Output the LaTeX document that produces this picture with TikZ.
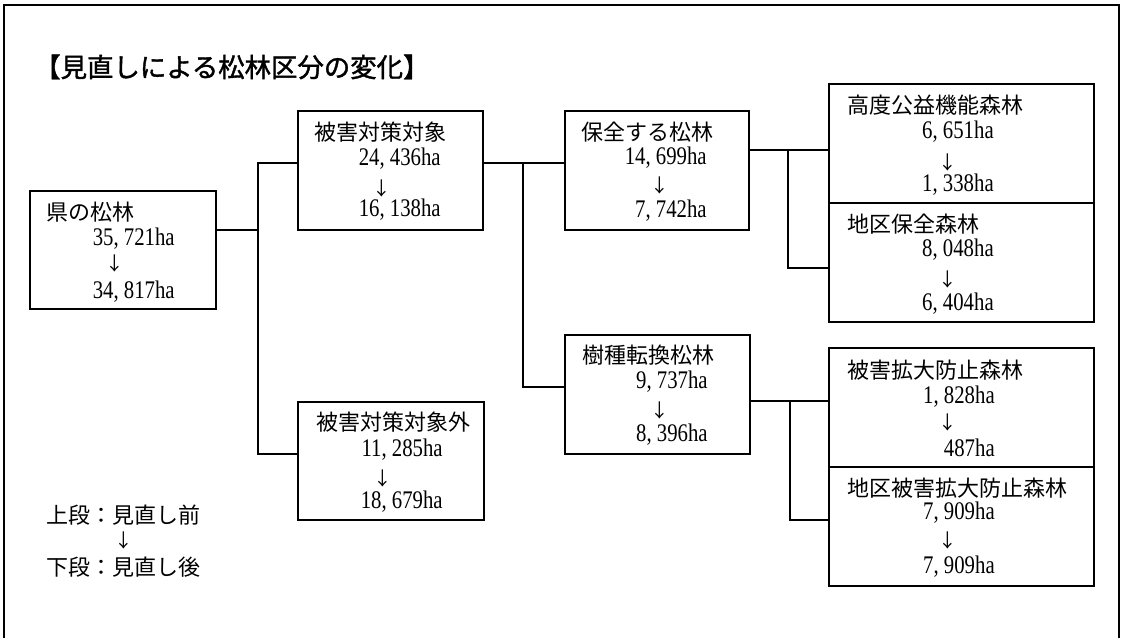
\documentclass[tikz,border=0pt]{standalone}
\usepackage{fontspec}
\setmainfont{Liberation Serif}
\newfontfamily\numfont[FakeStretch=0.82]{Liberation Serif}
\newfontfamily\jp{Noto Sans CJK JP}
\newfontfamily\jpb[FakeBold=1.5]{Noto Sans CJK JP}
\usetikzlibrary{fit}
\begin{document}
\begin{tikzpicture}[x=0.75pt,y=-0.75pt,
  box/.style={draw, line width=0.9pt, inner sep=0pt},
  conn/.style={draw, line width=0.9pt},
  frameline/.style={draw, line width=0.9pt},
  lbl/.style={font=\jp\fontsize{16.5}{18}\selectfont, anchor=west, inner sep=0pt},
  num/.style={font=\numfont\fontsize{19}{21}\selectfont, anchor=east, inner sep=0pt},
  arr/.style={font=\jp\fontsize{14}{16}\selectfont, inner sep=0pt},
  ttl/.style={font=\jpb\fontsize{19.8}{22}\selectfont, anchor=west, inner sep=0pt}]
\useasboundingbox (0,0) rectangle (1122,638);
\fill[white] (0,0) rectangle (1122,638);
\draw[frameline] (4,638) -- (4,5) -- (1119,5) -- (1119,638);

\node[ttl] (T) at (34,67) {【見直しによる松林区分の変化】};

% boxes
\node[box, fit={(30,191)(216,309)}] (A) {};
\node[box, fit={(298,111)(483,230)}] (B) {};
\node[box, fit={(298,402)(484,520)}] (C) {};
\node[box, fit={(565,111)(749,230)}] (D) {};
\node[box, fit={(565,335)(750,454)}] (E) {};
\node[box, fit={(829,84)(1094,203)}] (F) {};
\node[box, fit={(829,203)(1094,322)}] (G) {};
\node[box, fit={(829,348)(1094,467)}] (H) {};
\node[box, fit={(829,467)(1094,586)}] (I) {};

% texts
\node[lbl] (A1) at (46,212) {県の松林};
\node[num] (A2) at (175,239) {35, 721ha};
\node[arr] (A3) at (115,263) {↓};
\node[num] (A4) at (175,292) {34, 817ha};

\node[lbl] (B1) at (314,132) {被害対策対象};
\node[num] (B2) at (441,159) {24, 436ha};
\node[arr] (B3) at (382,188) {↓};
\node[num] (B4) at (441,210) {16, 138ha};

\node[lbl] (C1) at (316,422) {被害対策対象外};
\node[num] (C2) at (443,450) {11, 285ha};
\node[arr] (C3) at (383,478) {↓};
\node[num] (C4) at (443,502) {18, 679ha};

\node[lbl] (D1) at (581,132) {保全する松林};
\node[num] (D2) at (707,158) {14, 699ha};
\node[arr] (D3) at (660,185) {↓};
\node[num] (D4) at (707,211) {7, 742ha};

\node[lbl] (E1) at (582,355) {樹種転換松林};
\node[num] (E2) at (708,382) {9, 737ha};
\node[arr] (E3) at (660,410) {↓};
\node[num] (E4) at (708,435) {8, 396ha};

\node[lbl] (F1) at (847,105) {高度公益機能森林};
\node[num] (F2) at (994,132) {6, 651ha};
\node[arr] (F3) at (948,162) {↓};
\node[num] (F4) at (994,185) {1, 338ha};

\node[lbl] (G1) at (847,224) {地区保全森林};
\node[num] (G2) at (994,250) {8, 048ha};
\node[arr] (G3) at (948,279) {↓};
\node[num] (G4) at (994,304) {6, 404ha};

\node[lbl] (H1) at (847,370) {被害拡大防止森林};
\node[num] (H2) at (995,397) {1, 828ha};
\node[arr] (H3) at (948,422) {↓};
\node[num] (H4) at (995,448) {487ha};

\node[lbl] (I1) at (847,488) {地区被害拡大防止森林};
\node[num] (I2) at (995,513) {7, 909ha};
\node[arr] (I3) at (948,540) {↓};
\node[num] (I4) at (995,567) {7, 909ha};

% legend
\node[lbl] (L1) at (46,515) {上段：見直し前};
\node[arr] (L2) at (124,540) {↓};
\node[lbl] (L3) at (46,567) {下段：見直し後};

% connectors
\coordinate (j1) at (258,230);
\coordinate (j2) at (258,163);
\coordinate (j3) at (258,454);
\draw[conn] (A.east|-j1) -- (j1);
\draw[conn] (B.west|-j2) -- (j2) -- (j3) -- (C.west|-j3);

\coordinate (k1) at (523,163);
\coordinate (k2) at (523,387);
\draw[conn] (B.east|-k1) -- (D.west|-k1);
\draw[conn] (k1) -- (k2) -- (E.west|-k2);

\coordinate (m1) at (788,150);
\coordinate (m2) at (788,268);
\draw[conn] (D.east|-m1) -- (F.west|-m1);
\draw[conn] (m1) -- (m2) -- (G.west|-m2);

\coordinate (n1) at (790,401);
\coordinate (n2) at (790,520);
\draw[conn] (E.east|-n1) -- (H.west|-n1);
\draw[conn] (n1) -- (n2) -- (I.west|-n2);
\end{tikzpicture}
\end{document}
